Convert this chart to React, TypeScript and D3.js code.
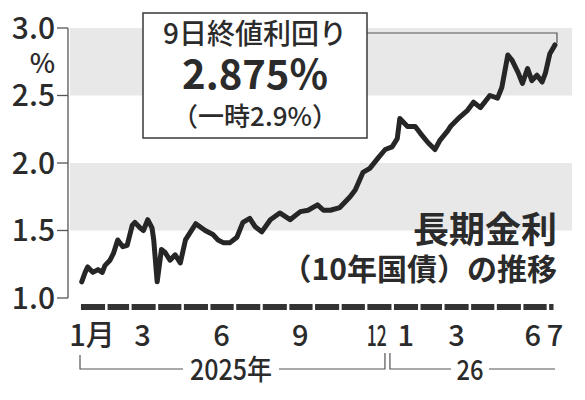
import React from "react";
import * as d3 from "d3";

// daily-ish readings of the 10-year JGB yield (%)
const dates = [
  "2025-01-03", "2025-01-07", "2025-01-10", "2025-01-16", "2025-01-22", "2025-01-27",
  "2025-01-30", "2025-02-05", "2025-02-09", "2025-02-14", "2025-02-20", "2025-02-25",
  "2025-03-03", "2025-03-06", "2025-03-12", "2025-03-16", "2025-03-21", "2025-03-26",
  "2025-03-28", "2025-04-01", "2025-04-06", "2025-04-10", "2025-04-16", "2025-04-22",
  "2025-04-28", "2025-05-04", "2025-05-09", "2025-05-16", "2025-05-27", "2025-06-05",
  "2025-06-11", "2025-06-17", "2025-06-25", "2025-07-03", "2025-07-10", "2025-07-18",
  "2025-07-24", "2025-08-01", "2025-08-11", "2025-08-22", "2025-09-03", "2025-09-15",
  "2025-09-24", "2025-10-05", "2025-10-12", "2025-10-20", "2025-10-31", "2025-11-12",
  "2025-11-18", "2025-11-27", "2025-12-05", "2025-12-15", "2025-12-23", "2025-12-31",
  "2026-01-06", "2026-01-09", "2026-01-18", "2026-01-27", "2026-02-02", "2026-02-11",
  "2026-02-19", "2026-02-25", "2026-03-06", "2026-03-09", "2026-03-20", "2026-03-29",
  "2026-04-05", "2026-04-13", "2026-04-24", "2026-05-03", "2026-05-08", "2026-05-15",
  "2026-05-20", "2026-05-27", "2026-06-01", "2026-06-07", "2026-06-12", "2026-06-18",
  "2026-06-24", "2026-06-28", "2026-07-03", "2026-07-09",
];
const yields = [
  1.12, 1.19, 1.23, 1.19, 1.21, 1.19,
  1.24, 1.28, 1.33, 1.43, 1.38, 1.39,
  1.54, 1.56, 1.52, 1.5, 1.58, 1.52,
  1.43, 1.12, 1.36, 1.34, 1.28, 1.32,
  1.26, 1.43, 1.48, 1.55, 1.5, 1.47,
  1.43, 1.41, 1.41, 1.45, 1.56, 1.59,
  1.53, 1.49, 1.58, 1.63, 1.58, 1.64,
  1.65, 1.69, 1.65, 1.65, 1.67, 1.75,
  1.8, 1.93, 1.96, 2.04, 2.1, 2.12,
  2.18, 2.33, 2.27, 2.27, 2.22, 2.15,
  2.1, 2.17, 2.24, 2.27, 2.34, 2.39,
  2.45, 2.41, 2.5, 2.48, 2.56, 2.8,
  2.76, 2.67, 2.59, 2.7, 2.61, 2.65,
  2.6, 2.67, 2.81, 2.875,
];

const yTicks = [1.0, 1.5, 2.0, 2.5, 3.0];
const bands = [[1.5, 2.0], [2.5, 3.0]];
const monthLabels = [
  { date: "2025-01-15", text: "1月" },
  { date: "2025-03-15", text: "3" },
  { date: "2025-06-15", text: "6" },
  { date: "2025-09-15", text: "9" },
  { date: "2025-12-13", text: "12" },
  { date: "2026-01-16", text: "1" },
  { date: "2026-03-16", text: "3" },
  { date: "2026-06-13", text: "6" },
  { date: "2026-07-09", text: "7" },
];
const yearLabels = ["2025年", "26"];
const calloutLines = ["9日終値利回り", "2.875%", "（一時2.9%）"];
const titleLines = ["長期金利", "（10年国債）の推移"];

const W = 585;
const H = 400;
const FONT = "'Noto Sans CJK JP', 'Noto Sans', sans-serif";
const INK = "#2b2b2b";

export default function App() {
  const parse = d3.utcParse("%Y-%m-%d");
  const data = dates.map((d, i) => ({ date: parse(d)!, value: yields[i] }));
  const start = parse("2025-01-01")!;
  const end = parse("2026-07-09")!;

  const x = d3.scaleUtc([start, end], [80, 555]);
  const y = d3.scaleLinear([1.0, 3.0], [298, 28]);

  const line = d3
    .line<{ date: Date; value: number }>()
    .x((d) => x(d.date))
    .y((d) => y(d.value));

  // month dashes along the bottom
  const months = d3.utcMonth.range(start, end);
  const dashes = months.map((m) => {
    const next = d3.utcMonth.offset(m, 1);
    const x0 = x(m) + 1;
    const x1 = Math.min(x(next), x(end)) - 1.5;
    return { x0, x1 };
  });

  const yearSplit = x(parse("2026-01-01")!) - 5;
  const last = data[data.length - 1];
  const lx = x(last.date);
  const ly = y(last.value);

  return (
    <svg
      width={W}
      height={H}
      viewBox={`0 0 ${W} ${H}`}
      style={{ position: "absolute", left: 0, top: 0, background: "#fff" }}
      fontFamily={FONT}
      fontWeight={500}
    >
      {/* shaded bands */}
      {bands.map(([a, b]) => (
        <rect key={a} x={70} y={y(b)} width={502} height={y(a) - y(b)} fill="#e8e8e8" />
      ))}

      {/* y axis */}
      <line x1={68} x2={68} y1={y(3.0)} y2={y(1.0)} stroke="#555" strokeWidth={1.3} />
      {yTicks.map((t) => (
        <g key={t}>
          <line x1={57} x2={68} y1={y(t)} y2={y(t)} stroke="#555" strokeWidth={1.3} />
          <text x={55} y={y(t)} dy="0.36em" textAnchor="end" fontSize={30} fill={INK}>
            {t.toFixed(1)}
          </text>
        </g>
      ))}
      <text x={55} y={63} dy="0.36em" textAnchor="end" fontSize={27} fill={INK}>
        %
      </text>

      {/* month dashes */}
      {dashes.map((d, i) => (
        <rect key={i} x={d.x0} y={304} width={d.x1 - d.x0} height={6} fill="#333" />
      ))}

      {/* month labels */}
      {monthLabels.map((m, i) => (
        <text
          key={i}
          x={x(parse(m.date)!)}
          y={336}
          dy="0.36em"
          textAnchor="middle"
          fontSize={29}
          fill={INK}
          {...(m.text === "12" ? { textLength: 20, lengthAdjust: "spacingAndGlyphs" } : {})}
        >
          {m.text}
        </text>
      ))}

      {/* year brackets */}
      <g stroke="#555" strokeWidth={1.2} fill="none">
        <polyline points={`${x(start)},355 ${x(start)},369 183,369`} />
        <polyline points={`279,369 ${yearSplit - 3},369 ${yearSplit - 3},353`} />
        <polyline points={`${yearSplit + 2},353 ${yearSplit + 2},369 451,369`} />
        <polyline points={`489,369 ${x(end)},369`} />
      </g>
      <text
        x={231}
        y={370}
        dy="0.36em"
        textAnchor="middle"
        fontSize={28}
        fill={INK}
        textLength={82}
        lengthAdjust="spacingAndGlyphs"
      >
        {yearLabels[0]}
      </text>
      <text
        x={470}
        y={370}
        dy="0.36em"
        textAnchor="middle"
        fontSize={28}
        fill={INK}
        textLength={27}
        lengthAdjust="spacingAndGlyphs"
      >
        {yearLabels[1]}
      </text>

      {/* yield line */}
      <path
        d={line(data) ?? ""}
        fill="none"
        stroke="#262626"
        strokeWidth={5}
        strokeLinejoin="round"
        strokeLinecap="round"
      />

      {/* callout */}
      <polyline
        points={`367,33 ${lx + 2},33 ${lx + 2},${ly - 2}`}
        fill="none"
        stroke="#555"
        strokeWidth={1.2}
      />
      <rect x={143} y={13} width={224} height={125} fill="#fff" stroke="#444" strokeWidth={1.6} />
      <text x={255} y={34} dy="0.36em" textAnchor="middle" fontSize={28} fill={INK}>
        {calloutLines[0]}
      </text>
      <text x={255} y={75} dy="0.36em" textAnchor="middle" fontSize={40} fontWeight="bold" fill={INK}>
        {calloutLines[1]}
      </text>
      <text x={255} y={117} dy="0.36em" textAnchor="middle" fontSize={26} fill={INK}>
        {calloutLines[2]}
      </text>

      {/* title */}
      <text x={557} y={230} dy="0.36em" textAnchor="end" fontSize={36} fontWeight="bold" fill={INK}>
        {titleLines[0]}
      </text>
      <text x={557} y={269} dy="0.36em" textAnchor="end" fontSize={30} fontWeight="bold" fill={INK}>
        {titleLines[1]}
      </text>
    </svg>
  );
}
